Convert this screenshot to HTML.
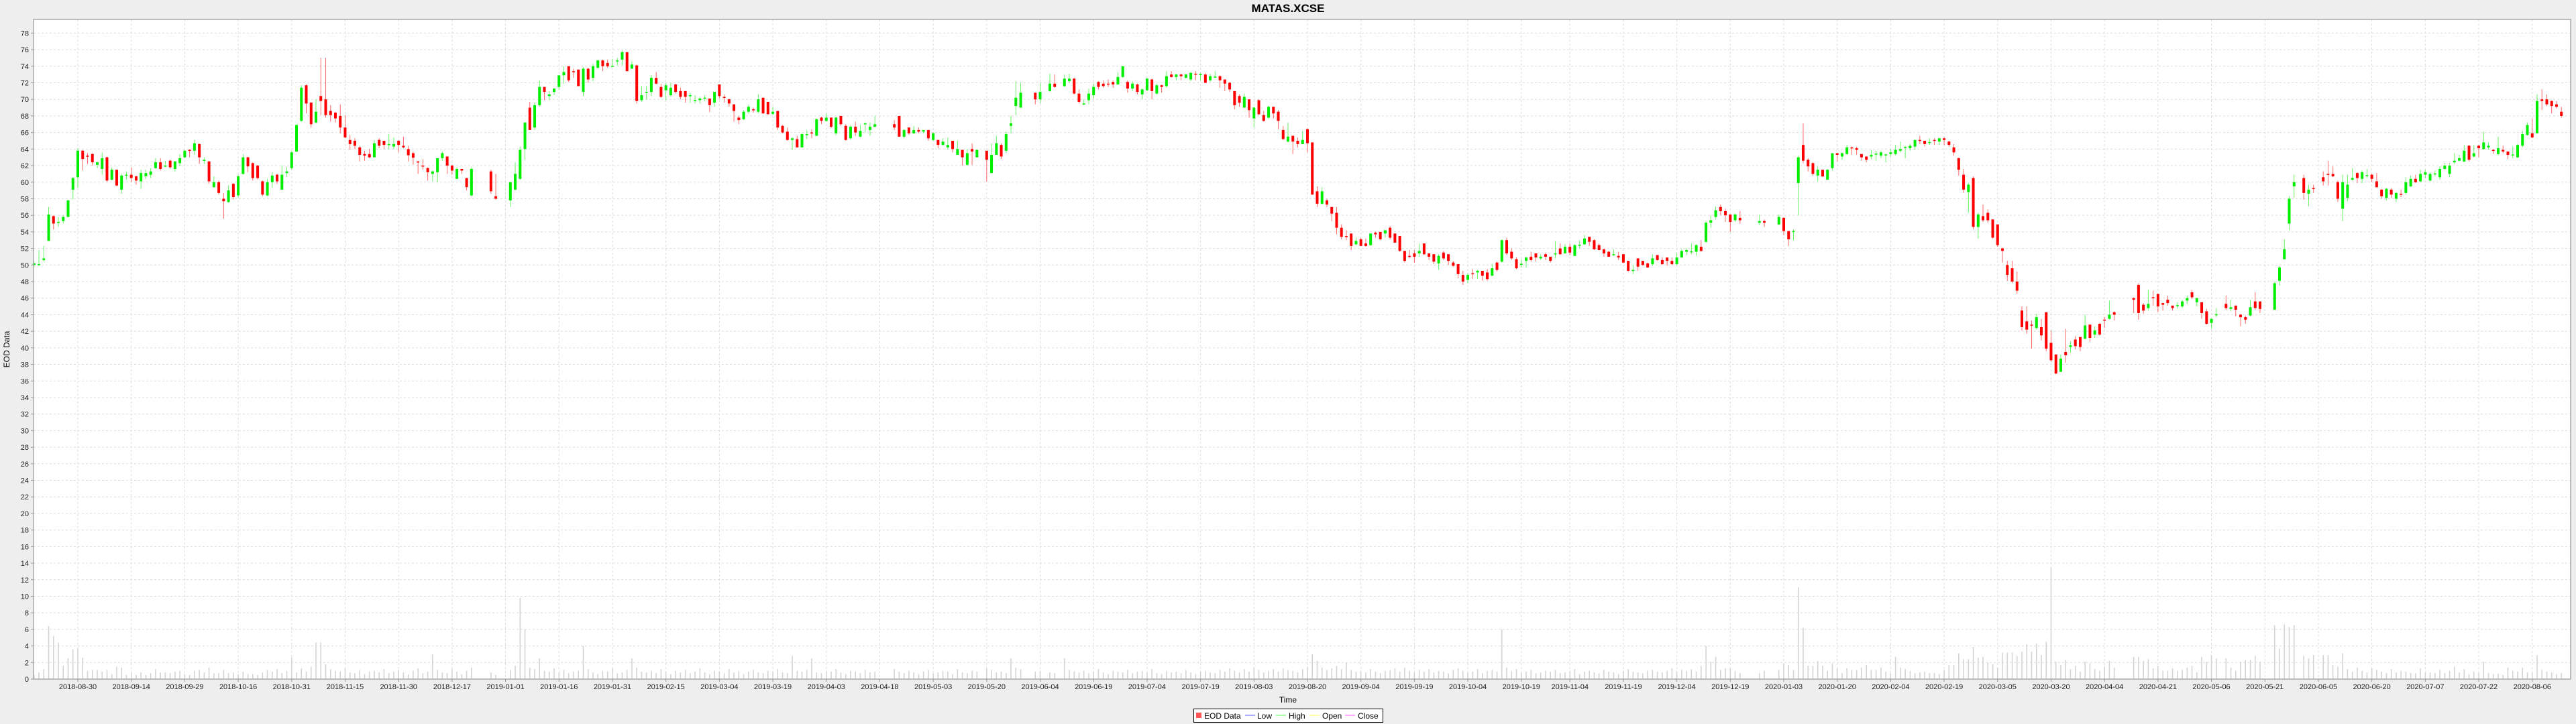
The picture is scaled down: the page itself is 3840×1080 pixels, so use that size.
<!DOCTYPE html>
<html><head><meta charset="utf-8"><title>MATAS.XCSE</title>
<style>
html,body{margin:0;padding:0;background:#eeeeee;}
body{width:3840px;height:1080px;overflow:hidden;font-family:"Liberation Sans",sans-serif;}
svg{display:block;}
</style></head>
<body>
<svg id="chart" width="3840" height="1080" xmlns="http://www.w3.org/2000/svg">
  <rect x="0" y="0" width="3840" height="1080" fill="#eeeeee"/>
  <text x="1920" y="18" text-anchor="middle" font-family="Liberation Sans, sans-serif" font-weight="bold" font-size="17" fill="#000">MATAS.XCSE</text>
  <rect x="50" y="29" width="3782" height="984" fill="#ffffff"/>
  <g id="grid"></g>
  <g id="vol"></g>
  <g id="candles"></g>
  <rect x="50" y="29" width="3782" height="984" fill="none" stroke="#a8a8a8" stroke-width="1.5"/>
  <g id="yaxis"></g>
  <g id="xaxis"></g>
  <text transform="translate(14,521) rotate(-90)" text-anchor="middle" font-size="12" fill="#000" font-family="Liberation Sans, sans-serif">EOD Data</text>
  <text x="1920" y="1048" text-anchor="middle" font-size="12" fill="#000" font-family="Liberation Sans, sans-serif">Time</text>
  <g>
    <rect x="1779.5" y="1057.5" width="282" height="20" fill="#fff" stroke="#000" stroke-width="1"/>
    <rect x="1783" y="1063" width="8" height="8" fill="#ff5555"/>
    <text x="1795" y="1072" font-size="12" font-family="Liberation Sans, sans-serif">EOD Data</text>
    <line x1="1856" y1="1067" x2="1871" y2="1067" stroke="#5555ff"/>
    <text x="1874" y="1072" font-size="12" font-family="Liberation Sans, sans-serif">Low</text>
    <line x1="1902" y1="1067" x2="1917" y2="1067" stroke="#55ff55"/>
    <text x="1921" y="1072" font-size="12" font-family="Liberation Sans, sans-serif">High</text>
    <line x1="1952" y1="1067" x2="1967" y2="1067" stroke="#ffff55"/>
    <text x="1971" y="1072" font-size="12" font-family="Liberation Sans, sans-serif">Open</text>
    <line x1="2005" y1="1067" x2="2020" y2="1067" stroke="#ff55ff"/>
    <text x="2024" y="1072" font-size="12" font-family="Liberation Sans, sans-serif">Close</text>
  </g>
</svg>
<script>
// ---- data ----
const startDate = "2018-08-17";
// [open, close, high, low] per weekday; null = no trading
const candles = [
/*0*/[50.0,50.2,50.4,49.8],[50.0,50.1,51.8,49.9],[50.6,50.8,52.3,50.4],[52.9,56.1,57.0,52.9],[55.9,55.0,56.0,54.3],[55.1,55.2,55.8,54.6],[55.3,55.8,56.0,55.0],[55.8,57.8,57.9,55.8],[59.1,60.5,60.6,57.9],[60.6,63.8,64.1,59.3],
/*10*/[63.8,62.8,63.9,61.4],[63.2,63.1,63.5,62.2],[63.4,62.4,63.5,62.0],[62.1,62.4,62.5,61.7],[61.6,62.9,63.6,60.9],[63.0,60.2,63.1,60.0],[60.3,61.5,61.8,60.2],[61.5,59.6,61.5,59.5],[59.1,60.8,61.0,58.6],[60.8,60.9,61.3,60.3],
/*20*/[60.9,60.5,61.8,60.0],[60.7,60.2,60.8,59.7],[60.1,61.1,61.5,59.2],[60.7,61.1,61.5,60.4],[60.9,61.3,61.7,60.5],[61.7,62.4,62.9,61.6],[62.4,61.6,62.9,61.4],[61.9,62.0,62.6,61.8],[62.6,61.8,62.7,61.6],[61.6,62.5,62.6,61.3],
/*30*/[62.3,62.9,63.4,61.9],[63.0,63.8,63.9,62.9],[63.9,63.8,64.0,63.0],[63.8,64.7,65.1,63.3],[64.6,63.0,64.7,62.2],[62.6,62.7,63.0,62.2],[62.5,60.1,62.6,59.8],[59.4,60.0,60.7,59.3],[60.0,58.7,60.2,58.5],[58.0,57.7,58.7,55.6],
/*40*/[57.6,59.0,59.6,57.5],[59.8,58.2,59.9,57.9],[58.4,60.7,60.9,58.2],[61.0,63.0,63.4,60.9],[63.0,61.9,63.1,61.2],[62.3,60.5,62.4,60.2],[62.0,60.5,62.1,60.3],[60.1,58.5,60.2,58.3],[58.4,60.0,60.4,58.3],[60.0,60.8,61.2,59.3],
/*50*/[60.9,60.1,61.0,59.8],[59.1,60.9,62.0,59.1],[61.1,61.3,61.8,60.6],[61.7,63.6,63.8,61.5],[63.7,66.9,67.0,63.6],[67.4,71.4,71.7,67.3],[71.7,69.5,71.8,68.3],[69.6,67.0,69.7,66.6],[67.2,68.5,70.0,67.1],[70.4,69.8,75.0,68.1],
/*60*/[70.0,68.1,75.0,67.8],[68.6,68.1,69.3,67.3],[68.4,67.7,68.5,67.2],[68.0,66.6,69.4,65.9],[66.6,65.4,68.1,65.3],[65.1,64.6,65.7,63.9],[65.0,64.4,65.3,64.0],[64.2,63.3,64.4,62.5],[63.4,63.2,63.8,62.6],[63.4,63.0,64.0,62.9],
/*70*/[63.0,64.7,65.1,63.0],[65.1,64.4,65.3,64.1],[65.0,64.5,65.0,64.0],[64.5,64.6,65.8,64.0],[64.3,64.6,65.4,64.0],[65.0,64.5,65.1,63.6],[64.4,64.2,65.5,64.1],[64.0,63.25,64.4,62.5],[63.5,62.95,63.7,62.1],[62.5,62.4,62.6,61.0],
/*80*/[62.0,61.95,62.8,61.5],[61.7,61.2,61.8,60.2],[61.0,61.3,61.4,60.1],[61.2,62.9,62.9,60.0],[62.9,63.5,63.7,62.6],[63.1,62.0,63.1,61.0],[62.0,61.4,62.1,60.9],[60.4,61.6,61.8,60.4],[61.6,61.4,61.6,61.0],[60.5,59.4,60.5,59.0],
/*90*/[58.4,61.6,61.8,58.3],null,null,null,[61.3,58.9,61.5,58.6],[58.3,58.0,61.0,57.9],null,null,[57.8,60.0,60.0,57.0],[59.1,61.0,62.4,59.0],
/*100*/[60.4,63.9,64.3,60.3],[64.0,67.2,67.2,62.7],[69.0,66.3,69.7,66.3],[66.6,69.3,69.6,66.3],[69.3,71.5,72.3,69.1],[71.5,70.9,71.5,69.9],[70.4,70.6,71.0,69.9],[70.9,71.3,71.3,70.5],[71.5,72.9,72.9,71.2],[72.9,73.3,74.0,71.9],
/*110*/[74.0,72.3,74.0,72.1],[73.4,73.3,73.7,72.6],[73.6,71.6,73.6,71.6],[70.9,73.7,73.9,70.4],[73.7,72.4,73.8,72.0],[72.6,74.0,74.3,72.2],[73.8,74.7,74.8,73.8],[74.7,74.0,74.8,73.4],[74.4,74.0,74.8,73.8],[74.0,74.05,74.9,74.0],
/*120*/[74.6,74.7,75.0,74.1],[74.8,75.7,75.9,74.1],[75.7,73.4,75.7,73.4],[73.7,74.2,74.6,73.9],[74.1,69.8,74.2,69.5],[69.9,70.5,71.6,69.7],[70.9,70.9,71.6,70.0],[70.9,72.6,72.9,70.4],[72.6,71.9,73.3,71.8],[71.5,70.3,71.9,70.2],
/*130*/[71.1,71.7,72.0,69.9],[70.5,71.4,72.0,70.3],[71.8,70.9,71.9,70.7],[71.0,70.3,71.4,70.0],[71.0,70.3,71.0,69.6],[70.4,70.5,70.8,69.6],[69.9,69.9,70.5,69.5],[69.9,70.1,70.3,69.5],[70.2,70.2,70.5,69.8],[70.1,69.3,70.1,68.5],
/*140*/[69.6,70.9,70.9,69.1],[71.8,70.4,71.8,70.1],[70.3,70.2,70.6,69.6],[70.0,69.5,70.1,69.1],[69.4,68.6,69.4,67.3],[67.8,67.5,68.0,67.0],[67.6,68.5,68.7,67.5],[68.5,69.1,69.4,68.3],[68.8,68.7,69.0,68.4],[68.5,70.0,70.6,68.3],
/*150*/[70.2,68.3,70.2,68.3],[69.7,68.2,69.7,68.2],[68.25,68.5,69.1,68.1],[68.6,66.6,68.6,66.3],[66.8,66.0,66.9,65.9],[66.1,65.1,66.6,65.0],[65.1,65.3,65.4,63.9],[65.2,64.2,65.6,64.2],[64.2,65.8,65.9,64.2],[65.8,65.8,66.3,65.2],
/*160*/[66.0,65.95,66.4,65.3],[65.6,67.6,67.7,65.6],[67.8,67.4,67.9,67.0],[67.4,67.8,68.3,67.3],[67.8,66.7,67.8,66.5],[65.9,67.8,67.9,65.7],[68.0,67.0,68.0,66.8],[66.8,65.1,67.0,65.0],[65.3,66.7,66.9,65.1],[66.7,66.0,67.3,65.6],
/*170*/[65.5,66.2,66.9,65.4],[67.0,67.1,67.2,66.0],[66.3,66.7,67.2,65.6],[66.7,67.0,68.0,66.6],null,null,null,[67.0,66.6,67.5,66.3],[68.0,65.5,68.0,65.5],[65.5,66.3,66.4,65.3],
/*180*/[66.6,65.9,66.6,65.7],[65.9,66.3,66.8,65.8],[66.3,66.1,66.6,65.9],[66.1,66.3,66.3,65.9],[66.3,65.3,66.3,65.0],[65.1,65.9,66.0,65.0],[65.1,64.5,65.1,64.1],[64.5,64.9,65.3,64.4],[64.2,64.5,65.4,64.0],[65.0,64.0,65.0,63.6],
/*190*/[63.3,64.0,65.0,63.3],[63.9,63.0,63.9,62.0],[62.1,63.5,64.0,62.0],[64.0,63.7,64.7,62.1],[63.0,63.9,63.9,63.0],null,[63.8,62.7,63.8,60.1],[61.1,63.3,64.7,61.1],[63.3,64.7,65.6,63.3],[64.5,63.1,64.7,62.8],
/*200*/[63.8,65.8,66.1,63.5],[66.8,67.1,68.0,65.9],[69.2,70.2,72.2,68.1],[69.0,70.8,72.0,69.0],null,null,[70.8,70.0,70.8,69.4],[70.0,70.9,72.0,69.5],null,[71.0,71.9,73.1,70.9],
/*210*/[71.9,71.5,73.0,71.4],null,[71.6,72.5,73.0,71.5],[72.2,72.5,73.1,72.0],[72.5,70.7,72.6,70.6],[70.7,69.7,71.2,69.5],[69.5,69.5,70.0,69.3],[69.9,70.7,71.3,69.4],[70.5,71.5,71.9,70.1],[72.1,71.5,72.2,71.2],
/*220*/[71.9,71.6,72.3,71.4],[71.9,71.8,72.4,71.5],[72.1,71.8,72.3,71.4],[71.8,72.7,73.3,71.8],[72.7,74.0,74.0,72.6],[72.1,71.3,72.3,70.8],[71.3,71.9,72.2,71.0],[71.8,70.9,71.9,70.6],[70.6,71.2,71.3,70.0],[71.1,72.5,72.6,71.0],
/*230*/[72.4,71.0,72.5,70.0],[70.7,71.7,71.9,70.6],[71.7,71.5,71.8,70.8],[71.6,72.8,73.4,71.4],[73.0,72.7,73.4,72.6],[72.7,73.0,73.1,72.3],[73.0,72.8,73.1,72.3],[72.6,73.0,73.1,72.5],[72.4,73.2,73.3,72.2],[73.1,73.0,73.4,72.3],
/*240*/[73.0,73.05,73.2,72.3],[73.0,72.0,73.2,72.0],[72.3,72.8,73.1,72.1],[72.7,72.75,73.4,72.6],[72.8,72.3,72.9,71.4],[72.4,71.9,72.4,71.0],[72.0,71.2,72.1,70.9],[71.0,69.3,71.0,68.8],[70.4,69.6,70.6,69.1],[69.0,70.3,70.7,69.0],
/*250*/[70.0,68.7,70.0,67.8],[67.7,69.0,69.1,66.6],[69.9,68.2,70.0,68.1],[68.1,67.4,68.6,67.3],[67.8,69.1,69.2,67.6],[69.1,68.3,69.1,67.7],[68.5,67.4,68.7,66.4],[66.3,65.2,66.8,65.1],[64.9,65.5,67.2,64.8],[65.6,64.9,65.6,63.4],
/*260*/[65.0,64.6,65.4,64.2],[64.6,65.1,66.2,64.6],[66.4,64.7,66.5,63.6],[64.8,58.5,64.8,58.5],[58.9,57.4,59.5,57.0],[57.4,58.9,59.4,57.3],[57.8,57.3,58.0,57.0],[57.0,56.2,57.0,55.3],[56.3,54.5,57.0,53.7],[54.5,53.4,54.9,53.1],
/*270*/[53.5,53.4,54.2,53.0],[53.8,52.3,53.8,51.8],[52.5,52.9,53.3,52.4],[53.1,52.3,53.3,52.3],[52.6,52.3,53.2,52.2],[52.4,53.8,53.8,52.3],[53.9,53.7,54.0,53.3],[54.0,53.1,54.0,53.0],[53.8,54.2,54.2,53.3],[54.5,53.3,54.7,53.1],
/*280*/[53.8,52.7,53.8,52.7],[53.5,51.7,53.5,51.6],[51.7,50.5,51.7,50.3],[51.1,51.0,51.8,50.8],[51.4,51.0,51.8,50.3],[51.4,51.7,52.6,51.0],[52.6,51.3,52.6,51.2],[51.4,51.0,51.4,50.6],[51.3,50.4,51.3,50.1],[50.2,51.1,51.3,49.4],
/*290*/[51.5,50.8,51.7,50.6],[51.3,50.5,51.3,50.0],[50.3,49.9,50.5,49.8],[50.1,48.9,50.1,48.4],[48.8,48.0,49.3,47.6],[48.2,48.8,49.0,47.8],[49.0,48.95,49.5,48.3],[49.1,49.3,49.4,48.3],[49.3,48.7,49.3,48.1],[49.1,48.3,49.5,48.1],
/*300*/[48.7,49.6,50.1,48.7],[50.3,49.4,50.4,49.2],[50.4,53.0,53.1,50.3],[53.0,51.4,53.3,51.2],[51.6,50.8,52.0,50.6],[50.7,49.6,50.9,49.5],[50.1,50.15,50.7,49.7],[50.5,50.9,51.0,49.7],[51.0,50.6,51.6,50.4],[51.4,50.9,51.4,50.4],
/*310*/[50.8,51.0,51.3,50.6],[51.3,51.0,51.5,50.6],[51.0,50.5,51.0,50.3],[51.3,51.4,52.9,50.8],[52.0,51.3,52.6,51.2],[51.4,52.2,52.5,51.4],[52.2,51.5,52.6,51.2],[51.1,52.4,52.5,51.1],[52.4,52.45,53.0,52.0],[52.5,53.2,53.6,52.4],
/*320*/[53.4,52.8,53.4,52.3],[53.0,51.9,53.1,51.8],[52.4,51.8,52.6,51.8],[51.9,51.4,51.9,51.0],[51.6,51.0,51.7,51.0],[51.2,51.3,51.9,51.1],[51.1,50.9,51.6,50.6],[51.3,50.3,51.3,50.2],[50.5,49.3,50.5,49.2],[49.3,49.4,50.0,48.9],
/*330*/[50.8,49.8,50.8,49.3],[50.5,50.0,50.5,49.9],[50.2,49.7,50.3,49.6],[50.1,50.8,51.3,49.9],[51.2,50.6,51.2,50.5],[50.6,50.1,50.9,50.0],[50.9,50.5,50.9,49.9],[50.5,50.1,50.9,50.0],[50.1,50.9,51.4,50.0],[50.9,51.7,51.9,50.9],
/*340*/[51.6,51.8,52.0,51.2],[51.6,51.65,52.6,51.3],[51.6,52.4,52.5,51.1],[52.2,51.7,53.0,51.6],[52.8,55.1,55.3,52.7],[55.1,55.4,56.0,54.5],[55.8,56.6,57.1,55.5],[57.0,56.5,57.3,56.0],[56.5,56.0,56.8,55.2],[56.1,55.2,56.1,54.0],
/*350*/[55.4,56.1,56.2,55.2],[55.7,55.4,56.5,55.0],null,null,null,[55.1,55.3,56.1,54.8],[55.3,55.1,55.5,54.6],null,null,[54.9,55.8,56.1,54.8],
/*360*/[55.7,54.1,55.7,53.6],[54.1,53.1,54.1,52.3],[54.0,54.1,54.3,53.0],[59.9,63.0,63.2,56.0],[64.5,62.6,67.1,62.3],[62.7,61.9,62.9,61.3],[62.3,61.0,62.4,60.8],[60.8,61.5,61.9,60.1],[61.5,60.7,61.5,60.6],[60.3,61.5,61.6,60.3],
/*370*/[61.7,63.5,63.5,61.4],[63.5,63.3,63.5,62.5],[63.1,63.5,63.6,62.7],[63.4,64.2,64.5,63.3],[64.2,64.1,64.3,63.3],[64.1,63.9,64.3,63.3],[63.4,63.0,63.4,62.6],[63.1,62.7,63.1,62.4],[63.1,63.3,63.9,62.8],[63.4,63.45,63.8,62.6],
/*380*/[63.2,63.6,63.8,62.9],[63.3,63.35,63.4,62.4],[63.4,63.6,64.0,63.1],[63.4,63.9,64.5,63.2],[63.8,64.0,64.9,63.6],[64.2,64.25,64.4,62.9],[64.1,64.4,64.6,63.8],[64.3,65.1,65.1,63.9],[65.1,65.0,65.6,64.6],[65.0,64.6,65.0,64.3],
/*390*/[64.8,64.85,65.3,64.5],[65.1,65.0,65.3,64.5],[64.9,65.3,65.3,64.5],[65.3,65.1,65.4,64.5],[64.9,64.5,65.0,64.3],[64.2,63.6,64.6,63.2],[62.9,61.5,63.0,60.8],[60.9,59.1,61.6,58.7],[58.8,59.7,59.9,56.3],[60.5,54.6,60.7,54.3],
/*400*/[54.6,56.1,56.3,53.2],[55.9,55.4,57.3,55.2],[56.3,55.4,56.7,55.1],[55.5,53.3,55.5,53.2],[54.9,52.4,54.9,52.2],[52.0,51.7,52.1,50.3],[50.0,48.8,50.5,48.1],[49.6,48.0,50.5,47.8],[48.0,46.9,49.2,46.5],[44.5,42.5,45.0,42.1],
/*410*/[43.2,42.2,45.0,41.7],[42.8,42.7,43.3,39.9],[42.4,43.7,44.1,42.2],[42.5,41.5,43.5,40.9],[44.3,39.9,44.3,39.6],[40.6,38.5,42.1,38.3],[39.2,36.9,39.2,36.8],[37.1,38.7,39.2,37.1],[39.5,39.1,42.3,38.2],[40.1,40.3,40.8,39.4],
/*420*/[41.0,40.2,41.4,39.8],[41.3,40.1,41.3,39.6],[41.1,42.7,44.0,41.0],[42.8,41.2,42.8,40.7],[41.6,42.1,42.6,41.2],[42.9,41.6,43.0,41.5],[43.4,43.3,43.7,42.4],[43.5,44.0,45.7,43.4],[44.3,44.0,44.4,43.3],null,
/*430*/null,null,[46.0,45.8,46.1,44.2],[47.6,44.2,47.8,43.4],[45.2,44.5,45.4,44.1],[44.8,45.3,47.0,44.5],[46.1,46.0,46.9,45.1],[46.5,45.0,46.5,44.3],[45.4,45.2,45.4,44.5],[45.8,45.4,46.3,45.1],
/*440*/[45.1,44.8,45.1,44.5],[45.1,45.15,45.5,44.7],[45.0,45.6,45.8,44.8],[45.7,46.0,46.3,45.3],[46.7,46.1,47.0,45.9],[45.5,46.0,46.0,45.0],[45.5,44.2,45.5,43.5],[44.4,42.9,44.7,42.8],[43.0,43.5,43.5,42.3],[44.0,44.05,44.8,43.7],
/*450*/null,[45.3,44.8,46.3,44.6],[44.7,44.9,45.8,44.4],[45.1,44.6,45.1,43.8],[44.0,43.7,44.1,42.6],[43.7,43.4,43.9,42.9],[43.9,44.9,45.8,43.8],[45.6,44.8,46.7,44.6],[45.6,44.7,45.6,44.2],null,
/*460*/null,[44.6,47.8,48.0,44.6],[48.1,49.7,49.9,47.5],[50.7,51.9,53.1,50.7],[55.0,58.0,58.3,54.2],[59.5,60.0,60.9,58.1],null,[60.5,58.7,60.9,57.9],[58.6,59.1,59.7,57.1],[59.3,59.2,59.7,58.7],
/*470*/null,[60.6,60.1,61.3,59.6],[61.0,60.9,62.6,59.6],[61.0,60.7,61.9,60.6],[60.0,58.0,60.2,57.6],[56.8,60.0,60.9,55.3],[58.1,59.7,60.9,57.7],[60.3,60.5,61.7,60.2],[61.1,60.5,61.2,59.9],[60.4,61.2,61.4,59.9],
/*480*/[60.8,60.85,61.6,60.5],[60.9,60.4,61.0,60.0],[60.1,59.4,61.1,59.3],[59.1,58.3,59.2,58.0],[58.1,59.2,59.3,57.8],[59.1,58.5,59.3,58.1],[58.0,58.7,58.8,57.6],[58.6,58.55,59.1,58.2],[58.7,60.0,60.6,58.5],[59.5,60.4,60.8,59.4],
/*490*/[60.4,60.0,60.9,59.9],[60.1,61.0,61.5,60.0],[60.9,61.2,61.5,60.5],[60.2,61.0,61.2,60.1],[61.0,61.05,61.4,60.7],[60.6,61.6,61.9,60.3],[61.6,62.0,62.3,61.5],[61.0,62.0,62.3,60.6],[62.4,62.6,63.5,62.2],[62.6,62.9,63.3,62.5],
/*500*/[62.5,63.8,64.5,62.4],[64.4,62.7,64.5,62.5],[63.1,63.5,64.5,63.0],[64.4,64.1,64.5,63.0],[64.0,64.8,66.1,63.9],[64.2,64.4,64.8,63.9],[63.9,63.85,64.0,63.4],[63.4,64.1,65.5,63.2],[63.9,63.7,64.4,63.5],[63.7,63.3,63.7,62.8],
/*510*/[63.3,63.35,64.3,62.9],[63.0,64.5,64.6,62.9],[64.4,65.8,66.2,64.2],[65.7,66.9,67.2,65.6],[65.9,65.4,67.7,65.3],[65.9,69.8,70.6,65.9],[70.0,69.8,71.2,68.7],[70.0,69.4,70.6,69.2],[69.8,69.2,69.9,68.3],[69.4,69.1,69.8,68.9],
/*520*/[68.5,68.0,69.1,67.8]
];
const volumes = [
/*0*/0.5,0.8,1.2,6.4,5.2,4.4,1.6,2.5,3.6,3.7,
/*10*/2.6,1.0,1.1,1.1,0.9,1.1,0.6,1.5,1.4,0.5,
/*20*/0.8,0.5,0.8,0.5,0.7,1.2,0.8,0.8,0.7,0.9,
/*30*/1.0,0.6,0.5,1.0,1.1,0.8,1.4,0.7,0.7,1.1,
/*40*/0.7,0.8,0.6,0.9,0.6,0.6,0.5,0.8,1.1,0.9,
/*50*/1.2,0.7,1.0,2.6,0.8,1.3,0.9,1.5,4.4,4.4,
/*60*/1.8,1.2,1.0,0.9,1.3,0.8,0.7,1.1,0.6,0.9,
/*70*/1.0,0.8,1.2,0.7,0.9,1.1,0.8,0.6,1.0,1.3,
/*80*/0.7,0.9,3.0,1.1,0.8,0.7,1.2,0.9,0.6,1.0,
/*90*/1.4,null,null,null,0.8,0.5,null,null,1.1,1.6,
/*100*/9.8,6.0,1.4,1.2,2.5,1.0,0.9,1.3,0.8,1.1,
/*110*/0.7,0.9,1.0,4.0,1.2,0.8,0.6,1.0,0.9,1.3,
/*120*/0.7,0.8,1.1,2.5,1.4,0.9,0.8,1.0,0.7,1.2,
/*130*/0.9,0.6,1.0,0.8,1.1,0.7,0.9,1.3,0.8,0.6,
/*140*/1.0,0.9,0.7,1.2,0.8,1.0,0.6,0.9,1.1,0.8,
/*150*/0.7,1.0,0.9,1.2,0.8,0.7,2.8,1.0,0.9,1.1,
/*160*/2.5,0.8,0.7,1.0,0.9,1.2,0.8,0.6,1.0,0.9,
/*170*/0.7,1.1,0.8,0.9,null,null,null,1.2,0.9,0.7,
/*180*/1.0,0.8,0.6,0.9,1.1,0.7,0.8,1.0,0.9,0.6,
/*190*/1.2,0.8,0.7,1.0,0.9,null,1.3,1.1,0.8,0.9,
/*200*/0.7,2.5,1.4,1.2,null,null,0.9,1.0,null,0.8,
/*210*/0.7,null,2.5,1.1,0.9,0.8,1.0,0.7,0.9,1.2,
/*220*/0.8,0.6,1.0,0.9,0.8,1.1,0.7,0.9,1.0,0.8,
/*230*/1.2,0.7,0.6,1.0,0.8,0.9,0.7,1.1,0.8,0.6,
/*240*/0.9,1.0,0.8,0.7,1.1,0.9,1.3,1.0,0.8,1.2,
/*250*/0.9,1.4,1.1,0.8,1.0,1.2,0.9,1.3,1.1,1.0,
/*260*/0.8,1.2,1.5,3.0,2.2,1.4,1.1,1.3,1.6,1.2,
/*270*/2.0,1.1,0.9,1.0,0.8,1.2,0.9,0.7,1.0,1.1,
/*280*/1.3,0.9,1.4,1.0,0.8,1.1,0.9,1.2,0.8,1.0,
/*290*/0.9,0.7,1.1,1.3,1.0,0.8,0.9,1.2,0.7,1.0,
/*300*/1.1,0.9,6.0,1.4,1.0,1.2,0.8,0.9,1.1,0.7,
/*310*/0.8,1.0,0.9,1.1,0.7,0.8,1.0,1.2,0.6,0.9,
/*320*/1.0,0.8,0.7,1.1,0.9,0.8,0.6,1.0,1.2,0.9,
/*330*/0.8,0.7,1.0,1.1,0.9,0.8,1.0,1.3,0.9,1.1,
/*340*/1.0,1.2,0.9,1.6,4.0,2.1,2.7,1.1,1.3,1.3,
/*350*/1.0,0.75,null,null,null,0.7,1.0,null,null,1.1,
/*360*/1.9,1.7,1.1,11.1,6.2,1.6,1.6,2.2,1.6,1.0,
/*370*/1.9,1.3,0.7,1.3,1.1,1.1,1.4,1.7,1.1,1.1,
/*380*/1.4,0.9,0.7,2.7,1.4,1.2,1.0,0.7,0.8,0.9,
/*390*/0.7,0.75,0.6,1.1,1.7,1.7,3.1,2.4,2.4,3.9,
/*400*/2.6,2.7,2.0,1.8,1.4,3.2,3.2,3.2,2.8,3.3,
/*410*/4.2,3.3,4.3,2.9,4.5,13.5,2.1,1.7,2.3,1.2,
/*420*/1.6,0.9,2.1,1.9,1.2,1.0,1.5,2.2,1.4,null,
/*430*/null,null,2.7,2.7,2.2,2.4,1.3,1.6,1.0,1.0,
/*440*/1.3,1.0,1.1,1.4,1.6,0.8,2.7,2.1,2.9,2.5,
/*450*/null,2.5,1.4,1.0,2.1,2.3,2.3,2.8,2.1,null,
/*460*/null,6.5,3.7,6.6,6.3,6.5,null,2.8,2.5,2.9,
/*470*/null,2.9,2.9,1.7,1.5,3.1,1.2,0.9,1.4,1.0,
/*480*/0.8,1.3,1.1,0.9,0.7,1.2,0.8,1.0,0.9,0.75,
/*490*/0.7,1.3,0.75,0.8,0.7,1.1,0.75,1.0,1.5,0.8,
/*500*/1.2,0.6,0.9,0.75,2.1,0.75,0.6,0.65,0.5,1.4,
/*510*/1.0,0.9,1.4,0.8,0.75,2.9,1.1,0.9,0.8,0.6,
/*520*/0.75
];
const yTickValues = [0,2,4,6,8,10,12,14,16,18,20,22,24,26,28,30,32,34,36,38,40,42,44,46,48,50,52,54,56,58,60,62,64,66,68,70,72,74,76,78];
const xTickLabels = ["2018-08-30","2018-09-14","2018-09-29","2018-10-16","2018-10-31","2018-11-15","2018-11-30","2018-12-17","2019-01-01","2019-01-16","2019-01-31","2019-02-15","2019-03-04","2019-03-19","2019-04-03","2019-04-18","2019-05-03","2019-05-20","2019-06-04","2019-06-19","2019-07-04","2019-07-19","2019-08-03","2019-08-20","2019-09-04","2019-09-19","2019-10-04","2019-10-19","2019-11-04","2019-11-19","2019-12-04","2019-12-19","2020-01-03","2020-01-20","2020-02-04","2020-02-19","2020-03-05","2020-03-20","2020-04-04","2020-04-21","2020-05-06","2020-05-21","2020-06-05","2020-06-20","2020-07-07","2020-07-22","2020-08-06"];

// ---- axes ----
const NS = "http://www.w3.org/2000/svg";
const plotL = 50, plotR = 3832, plotT = 29, plotB = 1013;
const yMax = 79.65;
const slotW = 7.245, x0 = 50.8;
function yScale(v){ return plotB - v * (plotB - plotT) / yMax; }
function xScale(i){ return x0 + i * slotW; }
function weekdayIndex(dateStr){
  const s = new Date(startDate + "T00:00:00Z"), d = new Date(dateStr + "T00:00:00Z");
  let n = 0;
  for (let t = new Date(s); t < d; t.setUTCDate(t.getUTCDate()+1)) {
    const w = t.getUTCDay(); if (w !== 0 && w !== 6) n++;
  }
  return n;
}
function mk(tag, attrs, parent){
  const el = document.createElementNS(NS, tag);
  for (const k in attrs) el.setAttribute(k, attrs[k]);
  parent.appendChild(el); return el;
}
const grid = document.getElementById("grid");
const yaxis = document.getElementById("yaxis");
const xaxis = document.getElementById("xaxis");
yTickValues.forEach(v => {
  const y = yScale(v);
  const gl = mk("line", {x1:plotL, x2:plotR, y1:y, y2:y, stroke:"#dcdcdc", "stroke-width":1, "stroke-dasharray":"3,3"}, grid);
  
  
  const tk = mk("line", {x1:plotL-4, x2:plotL, y1:y, y2:y, stroke:"#999"}, yaxis);
  
  
  const t = mk("text", {x:plotL-7, y:y+4, "text-anchor":"end", "font-size":"11", "font-family":"Liberation Sans, sans-serif", fill:"#222"}, yaxis);
  t.textContent = v;
  
  
});
xTickLabels.forEach(lbl => {
  const x = xScale(weekdayIndex(lbl));
  const gl = mk("line", {x1:x, x2:x, y1:plotT, y2:plotB, stroke:"#dcdcdc", "stroke-width":1, "stroke-dasharray":"3,3"}, grid);
  
  
  const tk = mk("line", {x1:x, x2:x, y1:plotB, y2:plotB+4, stroke:"#999"}, xaxis);
  
  
  const t = mk("text", {x:x, y:plotB+15, "text-anchor":"middle", "font-size":"11", "font-family":"Liberation Sans, sans-serif", fill:"#222"}, xaxis);
  t.textContent = lbl;
  
  
});

// ---- volume ----
const volG = document.getElementById("vol");
volumes.forEach((v, i) => {
  if (v === null) return;
  const x = xScale(i);
  const b = mk("rect", {x:x-0.8, y:yScale(v), width:1.6, height:plotB - yScale(v), fill:"#d4d4d4"}, volG);
  
  
});

// ---- candles ----
const cg = document.getElementById("candles");
candles.forEach((c, i) => {
  if (!c) return;
  const [o, cl, h, l] = c;
  const x = xScale(i);
  const up = cl >= o;
  const col = up ? "#00ee00" : "#ff0000";
  const wick = mk("line", {x1:x, x2:x, y1:yScale(h), y2:yScale(l), stroke:col, "stroke-width":1, "stroke-opacity":0.6}, cg);
  
  
  const top = yScale(Math.max(o, cl)), bot = yScale(Math.min(o, cl));
  const body = mk("rect", {x:x-2, y:top, width:4, height:Math.max(1.5, bot-top), fill:col}, cg);
  
  
});
</script>
</body></html>
